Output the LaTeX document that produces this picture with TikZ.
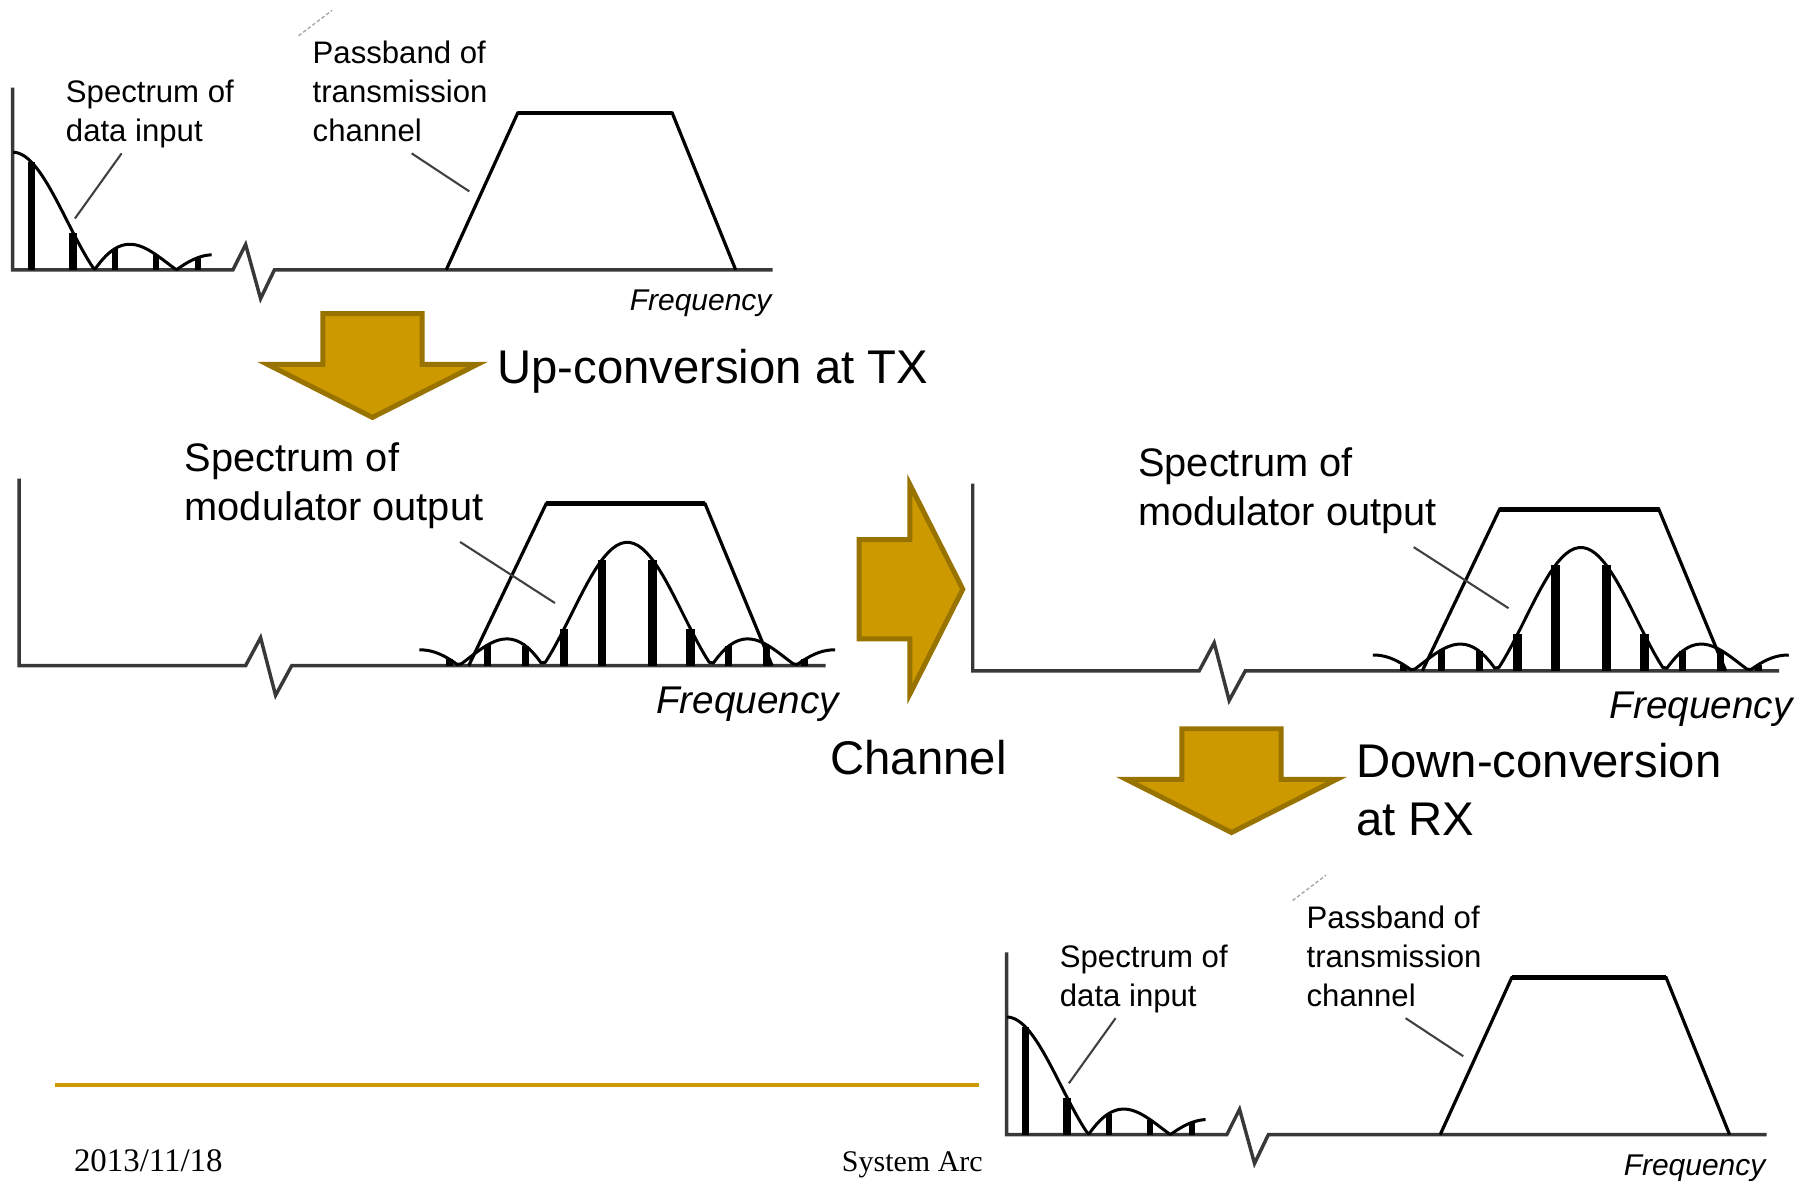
\documentclass[tikz,border=0pt]{standalone}
\usepackage{fontspec}
\setmainfont{Liberation Serif}
\newfontfamily\lsans{Liberation Sans}
\definecolor{gold}{HTML}{CC9900}
\definecolor{goldedge}{HTML}{997300}
\begin{document}
\begin{tikzpicture}[x=1pt,y=-1pt,
  axisline/.style={line width=3pt, draw=black!78, line join=miter},
  envline/.style={line width=2.6pt, draw=black, line join=round},
  bandline/.style={line width=2.8pt, draw=black, line join=miter},
  bandtop/.style={line width=4.2pt, draw=black},
  specbar/.style={draw=black, line cap=butt},
  leader/.style={line width=1.8pt, draw=black!75},
  scanmark/.style={draw=black!35, line width=1.2pt, dash pattern=on 3pt off 2pt},
  smalllbl/.style={font=\lsans\fontsize{27}{33}\selectfont, anchor=base west, inner sep=0pt},
  midlbl/.style={font=\lsans\fontsize{34.5}{42}\selectfont, anchor=base west, inner sep=0pt},
  freqsmall/.style={font=\lsans\itshape\fontsize{26}{30}\selectfont, anchor=base west, inner sep=0pt},
  freqmid/.style={font=\lsans\itshape\fontsize{33.5}{36}\selectfont, anchor=base west, inner sep=0pt},
  bigtxt/.style={font=\lsans\fontsize{41}{50}\selectfont, anchor=base west, inner sep=0pt},
  footer/.style={font=\fontsize{28.5}{32}\selectfont, anchor=base west, inner sep=0pt},
  footrule/.style={draw=gold, line width=3.5pt},
  fatarrow/.style={fill=gold, draw=goldedge, line width=4.3pt, line join=miter},
  % baseband spectrum next to the passband of the channel
  pics/baseband/.style={code={
    \draw[axisline] (11,76) -- (11,234) -- (202,234) -- (213,212) -- (226,259) -- (238,234) -- (670,234);
    \draw[envline] plot[domain=0.005:2.43, samples=110] ({11+71*\x},{234-102*abs(sin(180*\x)/(pi*\x))});
    \foreach \k in {0,...,4} {
      \pgfmathsetmacro\bx{27.5+36*\k}
      \pgfmathsetmacro\bu{(\bx-11)/71}
      \pgfmathsetmacro\by{234-102*abs(sin(180*\bu)/(pi*\bu))}
      \pgfmathsetmacro\bw{\k<2 ? 6.5 : 5.5}
      \draw[specbar, line width=\bw pt] (\bx,234) -- (\bx,\by);
    }
    \draw[bandline] (387,234) -- (449,98) -- (583,98) -- (638,234);
    \draw[bandtop] (449,98) -- (583,98);
    \node[smalllbl] (-sa) at (57,89) {Spectrum of};
    \node[smalllbl] (-sb) at (57,122.5) {data input};
    \node[smalllbl] (-pa) at (271,55.5) {Passband of};
    \node[smalllbl] (-pb) at (271,89) {transmission};
    \node[smalllbl] (-pc) at (271,122.5) {channel};
    \node[freqsmall] (-f) at (546,269.5) {Frequency};
    \coordinate (-da) at (105.5,133);
    \coordinate (-db) at (65,189.5);
    \draw[leader] (-da) -- (-db);
    \coordinate (-ca) at (357,133);
    \coordinate (-cb) at (407,166);
    \draw[leader] (-ca) -- (-cb);
    \coordinate (-ma) at (259,31);
    \coordinate (-mb) at (288,9);
    \draw[scanmark] (-ma) -- (-mb);
  }},
  % modulated spectrum inside the channel passband
  pics/passband/.style={code={
    \draw[axisline] (16.6,415) -- (16.6,577.3) -- (213,577.3) -- (226,553) -- (239,603) -- (253,577.3) -- (716,577.3);
    \draw[bandline] (406.5,577.3) -- (473.6,437) -- (611.5,437) -- (669.6,577.3);
    \draw[bandtop] (473.6,437) -- (611.5,437);
    \draw[envline] plot[domain=-2.47:2.47, samples=100] ({544+73*\x},{577.3-107*abs(sin(180*\x)/(pi*\x))});
    \foreach \s in {-1,1} {
      \foreach \k in {0,...,4} {
        \pgfmathsetmacro\bx{544+\s*(22+33*\k)}
        \pgfmathsetmacro\bu{(\bx-544)/73}
        \pgfmathsetmacro\by{577.3-107*abs(sin(180*\bu)/(pi*\bu))}
        \pgfmathsetmacro\bw{\k<2 ? 7.5 : 6}
        \draw[specbar, line width=\bw pt] (\bx,577.3) -- (\bx,\by);
      }
    }
    \node[midlbl] (-sa) at (160,409) {Spectrum of};
    \node[midlbl] (-sb) at (160,451) {modulator output};
    \node[freqmid] (-f) at (569,618.5) {Frequency};
    \coordinate (-la) at (399,470);
    \coordinate (-lb) at (481.3,523);
    \draw[leader] (-la) -- (-lb);
  }},
  % block arrow pointing down from its top centre
  pics/blockarrow/.style={code={
    \draw[fatarrow] (-43,0) -- (43,0) -- (43,44) -- (91,44) -- (0,90) -- (-91,44) -- (-43,44) -- cycle;
  }}
]
\useasboundingbox[fill=white] (0,0) rectangle (1568,1024);

\pic (p1) at (0,0) {baseband};
\pic (p2) at (0,0) {passband};
\pic (p3) at (827,4.5) {passband};
\pic (p4) at (862,750) {baseband};

\pic (a1) at (323,272) {blockarrow};
\pic[rotate=90] (a2) at (745,511) {blockarrow};
\pic (a3) at (1068,632) {blockarrow};

\node[bigtxt] (up) at (431,332.5) {Up-conversion at TX};
\node[bigtxt] (chan) at (720,672) {Channel};
\node[bigtxt] (downa) at (1176,674) {Down-conversion};
\node[bigtxt] (downb) at (1176,724.5) {at RX};

\coordinate (rulea) at (48,941);
\coordinate (ruleb) at (849,941);
\draw[footrule] (rulea) -- (ruleb);
\node[footer] (date) at (64,1016) {2013/11/18};
\node[footer, font=\fontsize{26}{30}\selectfont] (title) at (730,1016) {System Arc};
\end{tikzpicture}
\end{document}
